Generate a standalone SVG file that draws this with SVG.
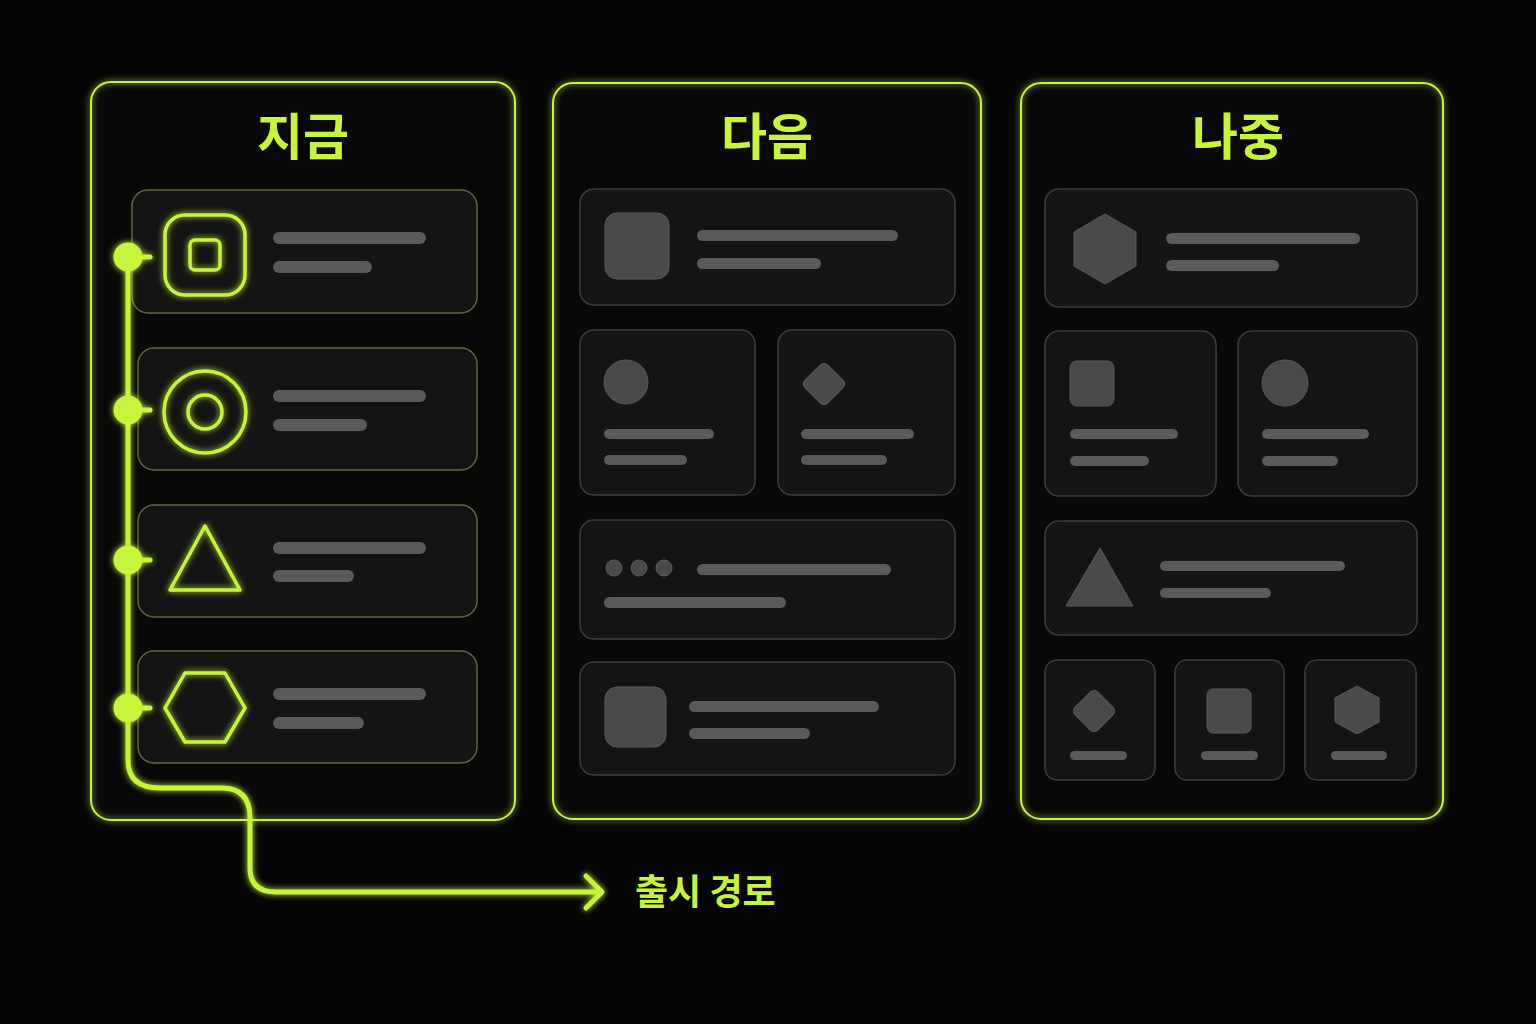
<svg xmlns="http://www.w3.org/2000/svg" width="1536" height="1024" viewBox="0 0 1536 1024">
<defs>
<filter id="glow" x="-20%" y="-20%" width="140%" height="140%"><feGaussianBlur stdDeviation="3" result="b"/><feMerge><feMergeNode in="b"/><feMergeNode in="SourceGraphic"/></feMerge></filter>
<marker id="arr" viewBox="0 0 10 10" refX="7" refY="5" markerWidth="5" markerHeight="5" orient="auto" markerUnits="userSpaceOnUse"><path d="M0 0 L7 5 L0 10" fill="none" stroke="#c6f53a" stroke-width="2"/></marker>
</defs>
<style>
.panel{fill:none;stroke:#c6f53a;stroke-width:2}
.pfill{fill:#080808}
.card{fill:#141415;stroke:#3c3c3e;stroke-width:1.5}
.card1{fill:#131413;stroke:#5a6a40;stroke-width:1.5}
.bar{fill:#5a5a5c}
.ic{fill:#4a4a4c;stroke:#5a5a5c;stroke-width:1}
.gl{fill:none;stroke:#c6f53a;stroke-width:3.5}
.title{font-family:"Noto Sans CJK KR","Noto Sans",sans-serif;font-weight:700;fill:#c6f53a;text-anchor:middle}
</style>
<rect width="1536" height="1024" fill="#050505"/>

<g id="col-now">
<rect class="pfill" x="91" y="82" width="424" height="738" rx="20"/>
<rect class="panel" x="91" y="82" width="424" height="738" rx="20" filter="url(#glow)"/>
<text class="title" x="303" y="155" font-size="50">지금</text>
<rect class="card1" x="132" y="190" width="345" height="123" rx="16"/>
<rect class="card1" x="138" y="348" width="339" height="122" rx="16"/>
<rect class="card1" x="138" y="505" width="339" height="112" rx="16"/>
<rect class="card1" x="138" y="651" width="339" height="112" rx="16"/>
<g filter="url(#glow)">
<rect class="gl" x="165" y="215" width="80" height="80" rx="20"/>
<rect class="gl" x="190" y="240" width="30" height="30" rx="5"/>
<circle class="gl" cx="205" cy="412" r="41"/>
<circle class="gl" cx="205" cy="412" r="17"/>
<path class="gl" d="M205 526 L240 590 L170 590 Z" stroke-linejoin="round"/>
<path class="gl" d="M185 673 L225 673 L245 708 L225 742 L185 742 L165 708 Z" stroke-linejoin="round"/>
</g>
<rect class="bar" x="273" y="232" width="153" height="12" rx="6"/>
<rect class="bar" x="273" y="261" width="99" height="12" rx="6"/>
<rect class="bar" x="273" y="390" width="153" height="12" rx="6"/>
<rect class="bar" x="273" y="419" width="94" height="12" rx="6"/>
<rect class="bar" x="273" y="542" width="153" height="12" rx="6"/>
<rect class="bar" x="273" y="570" width="81" height="12" rx="6"/>
<rect class="bar" x="273" y="688" width="153" height="12" rx="6"/>
<rect class="bar" x="273" y="717" width="91" height="12" rx="6"/>
</g>

<g id="col-next">
<rect class="pfill" x="553" y="83" width="428" height="736" rx="20"/>
<rect class="panel" x="553" y="83" width="428" height="736" rx="20" filter="url(#glow)"/>
<text class="title" x="767" y="155" font-size="50">다음</text>
<rect class="card" x="580" y="189" width="375" height="116" rx="14"/>
<rect class="ic" x="605" y="213" width="64" height="66" rx="12"/>
<rect class="bar" x="697" y="230" width="201" height="11" rx="5.5"/>
<rect class="bar" x="697" y="258" width="124" height="11" rx="5.5"/>
<rect class="card" x="580" y="330" width="175" height="165" rx="14"/>
<circle class="ic" cx="626" cy="382" r="22"/>
<rect class="bar" x="604" y="429" width="110" height="10" rx="5"/>
<rect class="bar" x="604" y="455" width="83" height="10" rx="5"/>
<rect class="card" x="778" y="330" width="177" height="165" rx="14"/>
<rect class="ic" x="808" y="368" width="32" height="32" rx="5" transform="rotate(45 824 384)"/>
<rect class="bar" x="801" y="429" width="113" height="10" rx="5"/>
<rect class="bar" x="801" y="455" width="86" height="10" rx="5"/>
<rect class="card" x="580" y="520" width="375" height="119" rx="14"/>
<circle class="ic" cx="614" cy="568" r="8"/><circle class="ic" cx="639" cy="568" r="8"/><circle class="ic" cx="664" cy="568" r="8"/>
<rect class="bar" x="697" y="564" width="194" height="11" rx="5.5"/>
<rect class="bar" x="604" y="597" width="182" height="11" rx="5.5"/>
<rect class="card" x="580" y="662" width="375" height="113" rx="14"/>
<rect class="ic" x="605" y="687" width="61" height="60" rx="12"/>
<rect class="bar" x="689" y="701" width="190" height="11" rx="5.5"/>
<rect class="bar" x="689" y="728" width="121" height="11" rx="5.5"/>
</g>

<g id="col-later">
<rect class="pfill" x="1021" y="83" width="422" height="736" rx="20"/>
<rect class="panel" x="1021" y="83" width="422" height="736" rx="20" filter="url(#glow)"/>
<text class="title" x="1238" y="155" font-size="50">나중</text>
<rect class="card" x="1045" y="189" width="372" height="118" rx="14"/>
<path class="ic" d="M1105 214 L1136 232 L1136 266 L1105 284 L1074 266 L1074 232 Z" stroke-linejoin="round"/>
<rect class="bar" x="1166" y="233" width="194" height="11" rx="5.5"/>
<rect class="bar" x="1166" y="260" width="113" height="11" rx="5.5"/>
<rect class="card" x="1045" y="331" width="171" height="165" rx="14"/>
<rect class="ic" x="1070" y="361" width="44" height="45" rx="7"/>
<rect class="bar" x="1070" y="429" width="108" height="10" rx="5"/>
<rect class="bar" x="1070" y="456" width="79" height="10" rx="5"/>
<rect class="card" x="1238" y="331" width="179" height="165" rx="14"/>
<circle class="ic" cx="1285" cy="383" r="23"/>
<rect class="bar" x="1262" y="429" width="107" height="10" rx="5"/>
<rect class="bar" x="1262" y="456" width="76" height="10" rx="5"/>
<rect class="card" x="1045" y="521" width="372" height="114" rx="14"/>
<path class="ic" d="M1100 548 L1133 606 L1066 606 Z" stroke-linejoin="round"/>
<rect class="bar" x="1160" y="561" width="185" height="10" rx="5"/>
<rect class="bar" x="1160" y="588" width="111" height="10" rx="5"/>
<rect class="card" x="1045" y="660" width="110" height="120" rx="12"/>
<rect class="ic" x="1078" y="695" width="32" height="32" rx="5" transform="rotate(45 1094 711)"/>
<rect class="bar" x="1070" y="751" width="57" height="9" rx="4.5"/>
<rect class="card" x="1175" y="660" width="109" height="120" rx="12"/>
<rect class="ic" x="1207" y="689" width="44" height="44" rx="6"/>
<rect class="bar" x="1201" y="751" width="57" height="9" rx="4.5"/>
<rect class="card" x="1305" y="660" width="111" height="120" rx="12"/>
<path class="ic" d="M1357 686 L1379 698 L1379 722 L1357 734 L1335 722 L1335 698 Z" stroke-linejoin="round"/>
<rect class="bar" x="1331" y="751" width="56" height="9" rx="4.5"/>
</g>

<g id="connectors" filter="url(#glow)">
<path d="M128 257 L128 760 Q128 788 160 788 L222 788 Q250 788 250 818 L250 868 Q250 892 276 892 L602 892" fill="none" stroke="#c6f53a" stroke-width="5" marker-end="url(#arr)"/>
<path d="M586 876 L602 892 L586 908" fill="none" stroke="#c6f53a" stroke-width="5" stroke-linecap="round" stroke-linejoin="round"/>
<g fill="#c6f53a" stroke="#c6f53a" stroke-width="5" stroke-linecap="round">
<circle cx="128" cy="257" r="12"/><line x1="128" y1="257" x2="150" y2="257"/>
<circle cx="128" cy="410" r="12"/><line x1="128" y1="410" x2="150" y2="410"/>
<circle cx="128" cy="560" r="12"/><line x1="128" y1="560" x2="150" y2="560"/>
<circle cx="128" cy="708" r="12"/><line x1="128" y1="708" x2="150" y2="708"/>
</g>
</g>
<text id="label-release" class="title" x="635" y="905" font-size="36" style="text-anchor:start">출시 경로</text>
</svg>
